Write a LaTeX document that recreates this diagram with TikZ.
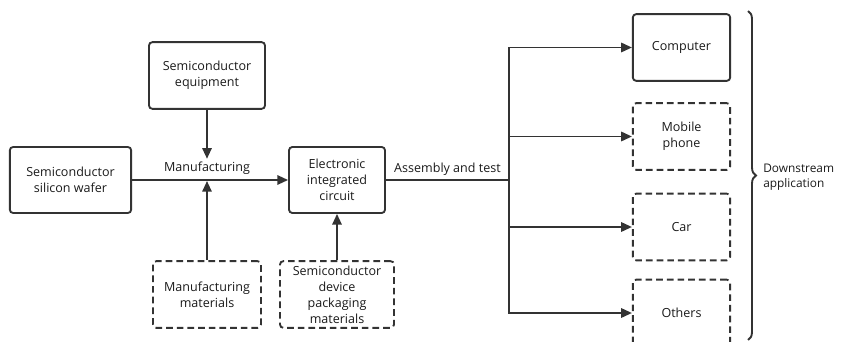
\documentclass[tikz,border=0pt]{standalone}
\usepackage{fontspec}
\setmainfont{Open Sans}
\usepackage{xcolor}
\usetikzlibrary{arrows.meta,positioning,decorations.pathreplacing}

\definecolor{linegray}{HTML}{333333}
\definecolor{textgray}{HTML}{1A1A1A}

\begin{document}
\begin{tikzpicture}[
  x=0.75pt, y=-0.75pt,
  >={Triangle[length=8pt,width=7pt]},
  every node/.style={font=\fontsize{9.4}{12}\selectfont, text=textgray},
  box/.style={draw=linegray, line width=1.4pt, rounded corners=2.5pt,
              align=center, inner sep=1pt},
  dbox/.style={box, dash pattern=on 5pt off 3pt},
  flow/.style={draw=linegray, line width=1.4pt}
]
\clip (0,0) rectangle (841,342);

% supply side
\node (equip) [box, minimum width=87pt, minimum height=50pt] at (207,75.5)
      {Semiconductor\\equipment};
\node (wafer) [box, minimum width=91pt, minimum height=49.5pt] at (70.5,180)
      {Semiconductor\\silicon wafer};
\node (elec)  [box, minimum width=72pt, minimum height=49.5pt] at (337,180)
      {Electronic\\integrated\\circuit};
\node (mmat)  [dbox, minimum width=81pt, minimum height=50pt] at (207,294.5)
      {Manufacturing\\materials};
\node (pmat)  [dbox, minimum width=85.5pt, minimum height=50pt] at (337,294.5)
      {Semiconductor\\device\\packaging\\materials};

\node (mfglbl) [inner sep=2pt] at (207,168) {Manufacturing};
\coordinate (mfg)   at (207,181);
\coordinate (split) at (509,180);

% downstream side
\node (comp)   [box,  minimum width=73pt, minimum height=50pt] at (681.5,47.5) {Computer};
\node (phone)  [dbox, minimum width=73pt, minimum height=50pt] at (681.5,136.5) {Mobile\\phone};
\node (car)    [dbox, minimum width=73pt, minimum height=50pt] at (681.5,227) {Car};
\node (others) [dbox, minimum width=73pt, minimum height=50pt] at (681.5,313) {Others};

\coordinate (btop) at (748,11);
\coordinate (bbot) at (748,340);
\node (down) [anchor=west, align=left, inner sep=0pt,
              font=\fontsize{8.9}{11.5}\selectfont] at (763,177) {Downstream\\application};

\draw[flow,->] (equip)  -- (mfglbl);
\draw[flow,->] (mmat)   -- (mfg);
\draw[flow,->] (wafer)  -- (elec);
\draw[flow,->] (pmat)   -- (elec);
\draw[flow] (elec) -- node[above, inner sep=3pt] {Assembly and test} (split);
\foreach \t in {comp,phone,car,others}
  \draw[flow,->] (split) |- (\t);

\draw[flow, decorate, decoration={brace, amplitude=6pt}] (btop) -- (bbot);
\end{tikzpicture}
\end{document}
